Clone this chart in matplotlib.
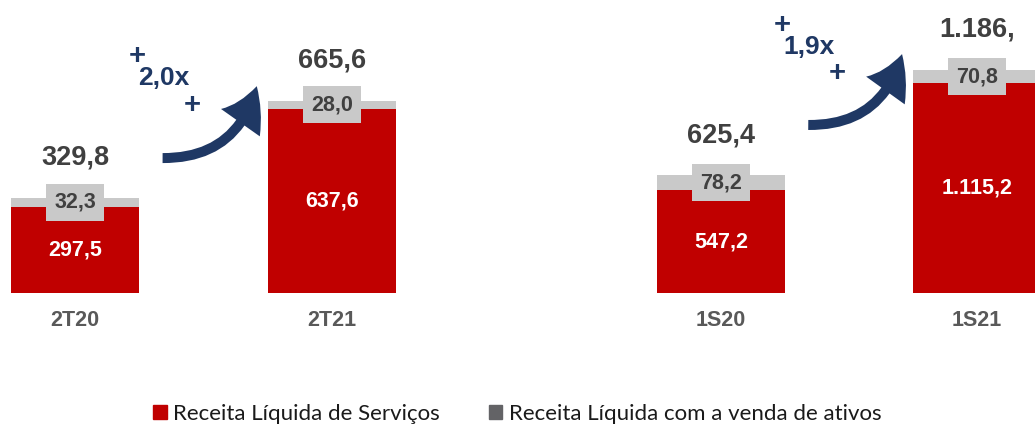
import matplotlib.pyplot as plt
from matplotlib.patches import Patch, FancyArrowPatch

# dados
trimestres = ['2T20', '2T21']
servicos_tri = [297.5, 637.6]
ativos_tri = [32.3, 28.0]
total_tri = ['329,8', '665,6']

semestres = ['1S20', '1S21']
servicos_sem = [547.2, 1115.2]
ativos_sem = [78.2, 70.8]
total_sem = ['625,4', '1.186,']   # o original aparece cortado

crescimento = ['2,0x', '1,9x']

VERMELHO = '#C00000'
CINZA = '#C9C9C9'
CINZA_LEG = '#636366'
AZUL = '#1F3864'
NUM = ['Liberation Sans', 'DejaVu Sans']


def br(v):
    return f"{v:,.1f}".replace(',', 'X').replace('.', ',').replace('X', '.')


fig = plt.figure(figsize=(10.35, 4.26), dpi=100)
ax1 = fig.add_axes([0, 133 / 426, 1, 293 / 426])
ax2 = fig.add_axes([0, 133 / 426, 1, 293 / 426])
ax2.patch.set_visible(False)

# limites escolhidos para casar com a posição das barras
ax1.set_xlim(-75 / 257, 960 / 257)
ax1.set_ylim(0, 293 / 0.289)
ax2.set_xlim(-721 / 256, 314 / 256)
ax2.set_ylim(0, 293 / 0.188)


def grupo(ax, rotulos, serv, ativ, totais, mult, ypx):
    xs = range(len(rotulos))
    ax.bar(xs, serv, width=0.5, color=VERMELHO)
    ax.bar(xs, ativ, width=0.5, bottom=serv, color=CINZA)
    for x, s, a, t in zip(xs, serv, ativ, totais):
        ax.text(x, s / 2, br(s), ha='center', va='center', color='white',
                fontsize=15.5, fontweight='bold', family=NUM)
        ax.text(x, s + a / 2, br(a), ha='center', va='center', color='#404040',
                fontsize=15.5, fontweight='bold', family=NUM,
                bbox=dict(boxstyle='square,pad=0.38', fc=CINZA, ec='none'))
        ax.annotate(t, (x, s + a), xytext=(0, 29), textcoords='offset points',
                    ha='center', va='center', color='#404040',
                    fontsize=19.5, fontweight='bold', family=NUM)
    ax.set_xticks(list(xs))
    ax.set_xticklabels(rotulos, fontsize=15.5, fontweight='bold', color='#595959',
                       family=NUM)
    ax.tick_params(axis='x', length=0, pad=12)
    ax.set_yticks([])
    for sp_ in ax.spines.values():
        sp_.set_visible(False)

    # seta "pincelada" entre as barras
    y0 = ypx
    seta = FancyArrowPatch((0.33, y0[0]), (0.71, y0[1]),
                           connectionstyle='arc3,rad=0.4',
                           arrowstyle='simple,head_width=1.9,head_length=1.6,tail_width=0.4',
                           mutation_scale=18, color=AZUL, lw=0,
                           transform=ax.transData)
    ax.add_patch(seta)
    ax.text(0.345, y0[2], mult, ha='center', va='center', color=AZUL,
            fontsize=19, fontweight='bold', family=NUM)
    ax.text(0.241, y0[3], '+', ha='center', va='center', color=AZUL,
            fontsize=21, fontweight='bold', family=NUM)
    ax.text(0.455, y0[4], '+', ha='center', va='center', color=AZUL,
            fontsize=21, fontweight='bold', family=NUM)


grupo(ax1, trimestres, servicos_tri, ativos_tri, total_tri, crescimento[0],
      [467, 725, 744, 820, 651])
grupo(ax2, semestres, servicos_sem, ativos_sem, total_sem, crescimento[1],
      [894, 1285, 1309, 1425, 1170])

handles = [Patch(color=VERMELHO, label='Receita Líquida de Serviços'),
           Patch(color=CINZA_LEG, label='Receita Líquida com a venda de ativos')]
leg = fig.legend(handles=handles, loc='center', bbox_to_anchor=(0.5, 1 - 414 / 426),
                 ncol=2, frameon=False, handlelength=0.6, handleheight=0.6,
                 handletextpad=0.3, columnspacing=2.2,
                 prop={'family': ['Lato', 'DejaVu Sans'], 'size': 16})
for t in leg.get_texts():
    t.set_color('#1a1a1a')

fig.savefig('out.png', dpi=100)
